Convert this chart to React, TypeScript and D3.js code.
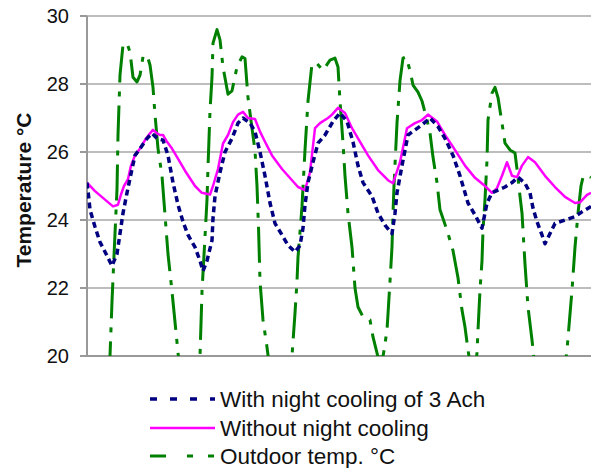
import React from "react";
import * as d3 from "d3";

// hours since start
const nightHours = [0,0.5,0.75,2,3.25,5,6.25,7.5,8.25,9,10,11.25,12,13.25,15,16.25,17.5,19,20.25,21.5,22.75,24,25.25,27,28.25,29,30,31.25,31.5,32,33.25,34.5,36.25,37.75,39,40.75,42,43.25,44.5,45.75,47,48.75,50.25,52,53.25,54,54.5,55.25,56.5,57.75,59.5,61.5,63.25,65,66.5,67.75,69,71.25,72.75,74.5,76.25,77,77.5,78.75,80.25,82,83.75,85.75,87.75,89.5,91.5,93.25,95.25,97,98.75,100,101.25,102.75,104.5,106.25,107.75,109.5,110.75,111.5,112.5,113.75,114.5,115.75,117,119.5,122,123.75,126];
const nightTemps = [25.1,24.6,24.3,23.8,23.35,22.95,22.65,23.0,23.6,24.2,24.8,25.5,25.9,26.1,26.4,26.55,26.4,26.35,25.9,25.1,24.45,23.95,23.56,23.2,22.8,22.5,22.8,23.4,24.05,24.7,25.4,26.0,26.4,26.85,27.0,26.85,26.6,26.0,25.3,24.5,23.9,23.56,23.26,23.06,23.25,23.76,24.44,25.1,25.7,26.26,26.5,26.9,27.15,26.9,26.3,25.6,25.1,24.7,24.2,23.85,23.6,24.2,24.8,25.6,26.5,26.65,26.8,27.0,26.75,26.4,25.9,25.3,24.5,24.15,23.76,24.5,24.8,24.88,24.97,25.1,25.26,25.08,24.8,24.35,23.95,23.56,23.3,23.6,23.9,24.0,24.1,24.24,24.4];

const noCoolHours = [0,2,4.5,6.5,7.75,8.5,9.25,10.25,11,12,13.25,14.5,15.75,16.5,17.5,18.25,19,20,21.25,22,24.5,27,28.7,30.75,31.5,32.75,34,35.25,36.5,37.75,39,40.25,42,43.25,44.5,46.25,48.75,51.25,52.75,54.5,55.75,57,58.25,60.25,61.25,62.75,64.5,66.25,67.75,70.25,72.75,75.25,76.5,78.25,80,82,83.75,85.25,87.5,89.5,91.5,94.5,97,99.5,101.25,102.5,103.75,105,106.25,107.5,108.75,110.25,112,114.5,117,119.5,122,123.25,125,126];
const noCoolTemps = [25.1,24.85,24.6,24.4,24.45,24.75,25.0,25.2,25.6,25.9,26.1,26.35,26.55,26.65,26.55,26.5,26.5,26.3,26.1,25.95,25.45,25.0,24.8,24.75,25.0,25.5,26.25,26.5,26.88,27.1,27.18,27.0,26.97,26.6,26.3,25.9,25.5,25.17,24.97,24.88,25.4,26.7,26.85,27.0,27.1,27.3,27.15,26.7,26.4,25.9,25.47,25.17,25.08,25.7,26.7,26.85,26.94,27.1,26.9,26.5,26.15,25.6,25.24,25.0,24.8,24.94,25.3,25.7,25.3,25.26,25.6,25.85,25.7,25.3,24.97,24.68,24.5,24.52,24.74,24.8];

const outdoorHours = [0,3,5.25,5.75,6.25,7,7.5,7.75,8.25,9,10,10.75,11.5,12.5,13.25,14,15,15.75,16.5,17,17.75,18.75,19.5,20.25,21.25,22,22.75,23.5,25.5,27,27.75,28.25,28.75,29.5,30,30.25,30.75,31.25,31.5,32.5,33.25,34,35.25,36.25,37.5,38.75,39.5,40.25,41.25,42,42.5,42.9,43.25,44,45,45.5,47.5,49.5,51,51.25,52,52.5,52.75,53.75,54.5,55.25,56.25,57.5,59,60.75,62,62.75,63.25,64,64.5,65.25,66.25,67,67.75,69,70.75,71.5,72.75,74,75,75.75,76.25,76.5,76.75,77.5,78.25,79,79.75,80.75,81.5,82.75,83.75,85,85.75,86.5,87.5,88.25,90,91.5,92.75,93.75,94.5,95.25,95.75,96.5,97.25,97.5,97.75,98.25,98.75,99,99.5,100,100.25,101.25,102,102.75,103.75,104.5,105.75,107,107.75,108.25,108.75,109.5,110.25,111.25,111.75,114,117,119,119.5,120,121.25,122,122.75,123.5,124,125.25,126];
const outdoorTemps = [18.6,18.2,19.5,20.0,21.6,23.6,24.9,26.5,28.26,29.15,29.2,28.94,28.2,28.06,28.26,28.8,28.85,28.56,27.9,27.1,26.1,25.3,24.15,23.0,21.9,21.0,20.1,19.3,18.6,18.9,19.6,20.0,21.9,23.5,24.6,25.56,27.2,28.2,29.2,29.6,29.3,28.5,27.7,27.8,28.5,28.8,28.75,27.6,26.7,26.05,25.0,23.7,22.2,21.06,20.26,19.8,18.8,18.9,19.8,20.0,21.26,22.2,22.9,24.4,26.06,27.5,28.6,28.6,28.4,28.7,28.76,28.5,27.5,26.26,25.3,24.2,23.2,22.0,21.44,21.15,21.06,20.56,19.97,19.97,20.76,22.2,23.2,24.2,25.0,26.85,28.1,28.76,28.8,28.4,27.97,27.76,27.5,26.94,26.56,25.85,25.1,24.3,23.7,23.1,22.3,21.35,20.85,20.18,19.8,19.4,19.8,20.1,20.76,21.94,22.8,23.7,24.6,25.76,26.94,27.73,27.9,27.6,26.85,26.26,26.06,25.97,25.26,24.7,24.2,22.7,21.44,20.47,19.9,18.8,18.6,18.9,19.7,20.18,21.94,23.2,24.2,25.0,25.26,25.32,25.25];

const yTicks = [20, 22, 24, 26, 28, 30];
const seriesNames = ["With night cooling of 3 Ach", "Without night cooling", "Outdoor temp. °C"];
const yTitle = "Temperature °C";

const W = 591, H = 468;
const left = 87, right = 591, top = 16, bottom = 356;

export default function App() {
  const x = d3.scaleLinear().domain([0, 126]).range([left, right]);
  const y = d3.scaleLinear().domain([20, 30]).range([bottom, top]);
  const mk = (hs: number[], ts: number[]) =>
    d3.line<number>().x((_, i) => x(hs[i])).y((t) => y(t)).curve(d3.curveLinear)(ts) || "";

  const navy = "#000080", magenta = "#ff00ff", green = "#008000";
  const font = "Arial, 'Liberation Sans', sans-serif";

  const legendRows = [
    { name: seriesNames[0], color: navy, dash: "7,13", w: 3.5, y: 399 },
    { name: seriesNames[1], color: magenta, dash: "", w: 2.5, y: 428 },
    { name: seriesNames[2], color: green, dash: "16,21,6,15,6", w: 3, y: 456 },
  ];

  return (
    <div style={{ position: "fixed", left: 0, top: 0, width: W, height: H, background: "#fff" }}>
      <svg width={W} height={H} style={{ display: "block" }}>
        <defs>
          <clipPath id="plot">
            <rect x={left} y={top - 6} width={right - left} height={bottom - top + 6} />
          </clipPath>
        </defs>
        {yTicks.map((t) => (
          <g key={t}>
            <line x1={left} x2={right} y1={y(t)} y2={y(t)} stroke="#bdbdbd" strokeWidth={2} />
            <line x1={80} x2={left} y1={y(t)} y2={y(t)} stroke="#999" strokeWidth={2} />
            <text x={69} y={y(t)} dy="0.36em" textAnchor="end" fontFamily={font} fontSize={20} fill="#111">
              {t}
            </text>
          </g>
        ))}
        <line x1={left} x2={left} y1={top} y2={bottom} stroke="#999" strokeWidth={2} />
        <line x1={left} x2={right} y1={bottom} y2={bottom} stroke="#999" strokeWidth={2} />
        <g clipPath="url(#plot)" fill="none" strokeLinejoin="round">
          <path d={mk(outdoorHours, outdoorTemps)} stroke={green} strokeWidth={3} strokeDasharray="36,9,5,9" />
          <path d={mk(noCoolHours, noCoolTemps)} stroke={magenta} strokeWidth={2.5} />
          <path d={mk(nightHours, nightTemps)} stroke={navy} strokeWidth={3.5} strokeDasharray="6,4" />
        </g>
        <text
          transform={`translate(31, 190) rotate(-90)`}
          textAnchor="middle"
          fontFamily={font}
          fontSize={21}
          fontWeight="bold"
          fill="#111"
        >
          {yTitle}
        </text>
        {legendRows.map((r) => (
          <g key={r.name}>
            <line x1={150} x2={215} y1={r.y} y2={r.y} stroke={r.color} strokeWidth={r.w} strokeDasharray={r.dash || undefined} />
            <text x={220} y={r.y} dy="0.36em" fontFamily={font} fontSize={22.5} fill="#111">
              {r.name}
            </text>
          </g>
        ))}
      </svg>
    </div>
  );
}
